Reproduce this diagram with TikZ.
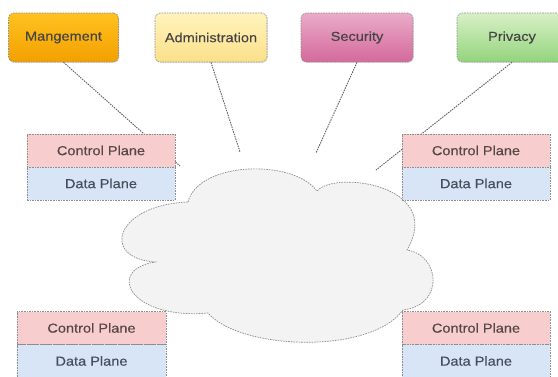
\documentclass[tikz,border=0pt]{standalone}
\usepackage{fontspec}
\setmainfont{Liberation Sans}
\newfontfamily\labfont[FakeStretch=1.12,FakeBold=0.3]{Liberation Sans}
\usetikzlibrary{shadows}
\definecolor{mgtop}{HTML}{FFC21F}
\definecolor{mgbot}{HTML}{F3A000}
\definecolor{adtop}{HTML}{FFF3BC}
\definecolor{adbot}{HTML}{FCE08A}
\definecolor{setop}{HTML}{EAABC9}
\definecolor{sebot}{HTML}{D4699B}
\definecolor{prtop}{HTML}{D8F0C6}
\definecolor{prbot}{HTML}{93D47D}
\definecolor{cpfill}{HTML}{F7CDCD}
\definecolor{dpfill}{HTML}{D7E5F7}
\definecolor{cloudfill}{HTML}{F3F3F3}
\definecolor{edge}{HTML}{8E8E8E}
\definecolor{conncol}{HTML}{5E5E5E}
\definecolor{txt}{HTML}{454545}
\definecolor{cptxt}{HTML}{574848}
\definecolor{dptxt}{HTML}{454E5B}
\begin{document}
\begin{tikzpicture}[x=1pt,y=-1pt,
  topbox/.style={draw=edge, dash pattern=on 1.6pt off 1pt, line width=0.6pt,
    rounded corners=5pt, minimum width=110pt, minimum height=49pt,
    font=\labfont\fontsize{13}{15}\selectfont, text=txt,
    drop shadow={opacity=0.18, shadow xshift=0.8pt, shadow yshift=-0.8pt}},
  plane/.style={draw=edge, dash pattern=on 1.6pt off 1pt, line width=0.7pt,
    minimum width=148pt, minimum height=33pt, inner sep=0pt,
    font=\labfont\fontsize{13}{15}\selectfont},
  cplane/.style={plane, fill=cpfill, text=cptxt},
  dplane/.style={plane, fill=dpfill, text=dptxt},
  conn/.style={draw=conncol, line width=0.9pt, dash pattern=on 1.5pt off 1pt},
  cloudst/.style={draw=edge, fill=cloudfill, line width=0.7pt, dash pattern=on 1.6pt off 1pt}
]
\useasboundingbox[fill=white] (0,0) rectangle (558,376);
\clip (0,0) rectangle (558,376);

% top boxes
\node[topbox, top color=mgtop, bottom color=mgbot] (mg) at (63.5,37.5) {Mangement};
\node[topbox, top color=adtop, bottom color=adbot, minimum width=112pt] (ad) at (211,37.5) {Administration};
\node[topbox, top color=setop, bottom color=sebot, minimum width=112pt] (se) at (357,37.5) {Security};
\node[topbox, top color=prtop, bottom color=prbot] (pr) at (512,37.5) {Privacy};

% connector ends
\coordinate (c1) at (180,166);
\coordinate (c2) at (240,152);
\coordinate (c3) at (316,153);
\coordinate (c4) at (376,170);
\draw[conn] (mg.south) -- (c1);
\draw[conn] (ad.south) -- (c2);
\draw[conn] (se.south) -- (c3);
\draw[conn] (pr.south) -- (c4);

% cloud
\draw[cloudst] (188,202) .. controls (198,162) and (292,158) .. (317,191)
  .. controls (335,170) and (445,185) .. (407,250)
  .. controls (440,255) and (445,305) .. (403,310)
  .. controls (370,355) and (240,350) .. (208,313)
  .. controls (130,320) and (105,270) .. (155,262)
  .. controls (100,258) and (115,205) .. cycle;

% plane boxes
\node[cplane] (tlc) at (101,150.5) {Control Plane};
\node[dplane] (tld) at (101,183.5) {Data Plane};
\node[cplane] (trc) at (476,150.5) {Control Plane};
\node[dplane] (trd) at (476,183.5) {Data Plane};
\node[cplane, minimum width=149pt] (blc) at (91.5,328) {Control Plane};
\node[dplane, minimum width=149pt] (bld) at (91.5,361) {Data Plane};
\node[cplane] (brc) at (476,328) {Control Plane};
\node[dplane] (brd) at (476,361) {Data Plane};
\end{tikzpicture}
\end{document}
